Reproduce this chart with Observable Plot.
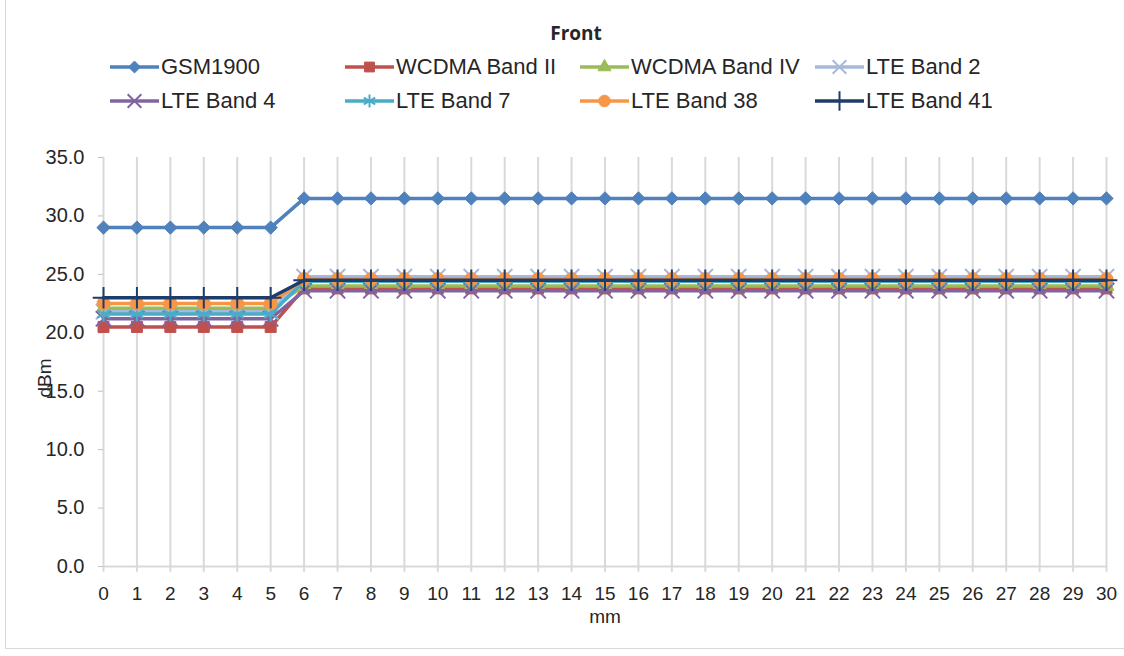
<!DOCTYPE html>
<html><head><meta charset="utf-8">
<script src="https://cdn.jsdelivr.net/npm/d3@7"></script>
<script src="https://cdn.jsdelivr.net/npm/@observablehq/plot@0.6"></script>
<style>
body{margin:0;background:#fff;font-family:"Liberation Sans",Arial,sans-serif;color:#262626}
#wrap{position:relative;width:1124px;height:656px;overflow:hidden;background:#fff}
#frame{position:absolute;left:5px;top:-3px;width:1140px;height:652px;border:1.5px solid #d9d9d9;box-sizing:border-box}
#title{position:absolute;top:20px;left:0;width:1152px;text-align:center;font-weight:bold;font-size:19px;color:#262626;font-family:"Open Sans","Liberation Sans",sans-serif}
.leg{position:absolute;display:flex;align-items:center;font-size:22px;white-space:nowrap;color:#262626}
.leg svg{margin-right:2px}
#chart{position:absolute;left:0;top:140px}
#ylab{position:absolute;left:45px;top:378px;transform:translate(-50%,-50%) rotate(-90deg);font-size:19px;color:#262626}
#xlab{position:absolute;left:505px;width:200px;text-align:center;top:606px;font-size:19px;color:#262626}
</style></head>
<body><div id="wrap"><div id="frame"></div><div id="title">Front</div><div id="legend"></div><div id="chart"></div><div id="ylab">dBm</div><div id="xlab">mm</div></div>
<script>
const mm = [0,1,2,3,4,5,6,7,8,9,10,11,12,13,14,15,16,17,18,19,20,21,22,23,24,25,26,27,28,29,30];
const seriesNames = ["GSM1900","WCDMA Band II","WCDMA Band IV","LTE Band 2","LTE Band 4","LTE Band 7","LTE Band 38","LTE Band 41"];
const gsm1900 = [29.0,29.0,29.0,29.0,29.0,29.0,31.5,31.5,31.5,31.5,31.5,31.5,31.5,31.5,31.5,31.5,31.5,31.5,31.5,31.5,31.5,31.5,31.5,31.5,31.5,31.5,31.5,31.5,31.5,31.5,31.5];
const wcdmaII = [20.5,20.5,20.5,20.5,20.5,20.5,23.8,23.8,23.8,23.8,23.8,23.8,23.8,23.8,23.8,23.8,23.8,23.8,23.8,23.8,23.8,23.8,23.8,23.8,23.8,23.8,23.8,23.8,23.8,23.8,23.8];
const wcdmaIV = [22.1,22.1,22.1,22.1,22.1,22.1,24.0,24.0,24.0,24.0,24.0,24.0,24.0,24.0,24.0,24.0,24.0,24.0,24.0,24.0,24.0,24.0,24.0,24.0,24.0,24.0,24.0,24.0,24.0,24.0,24.0];
const lte2 = [21.8,21.8,21.8,21.8,21.8,21.8,24.8,24.8,24.8,24.8,24.8,24.8,24.8,24.8,24.8,24.8,24.8,24.8,24.8,24.8,24.8,24.8,24.8,24.8,24.8,24.8,24.8,24.8,24.8,24.8,24.8];
const lte4 = [21.2,21.2,21.2,21.2,21.2,21.2,23.6,23.6,23.6,23.6,23.6,23.6,23.6,23.6,23.6,23.6,23.6,23.6,23.6,23.6,23.6,23.6,23.6,23.6,23.6,23.6,23.6,23.6,23.6,23.6,23.6];
const lte7 = [21.6,21.6,21.6,21.6,21.6,21.6,24.4,24.4,24.4,24.4,24.4,24.4,24.4,24.4,24.4,24.4,24.4,24.4,24.4,24.4,24.4,24.4,24.4,24.4,24.4,24.4,24.4,24.4,24.4,24.4,24.4];
const lte38 = [22.5,22.5,22.5,22.5,22.5,22.5,24.6,24.6,24.6,24.6,24.6,24.6,24.6,24.6,24.6,24.6,24.6,24.6,24.6,24.6,24.6,24.6,24.6,24.6,24.6,24.6,24.6,24.6,24.6,24.6,24.6];
const lte41 = [23.0,23.0,23.0,23.0,23.0,23.0,24.5,24.5,24.5,24.5,24.5,24.5,24.5,24.5,24.5,24.5,24.5,24.5,24.5,24.5,24.5,24.5,24.5,24.5,24.5,24.5,24.5,24.5,24.5,24.5,24.5];
const yTicks = [0,5,10,15,20,25,30,35];

const values = [gsm1900,wcdmaII,wcdmaIV,lte2,lte4,lte7,lte38,lte41];
const colors = ["#4F81BD","#C0504D","#9BBB59","#A7B9DB","#8064A2","#4BACC6","#F79646","#1F3D6B"];
const symbols = ["diamond2","square2","triangle2","times","times","asterisk","circle","plus"];
const filled = [true,true,true,false,false,false,true,false];
const radii = [6,7,7,7,7,7,6.5,7];

const data = seriesNames.flatMap((s,i)=>mm.map((x,j)=>({series:s, idx:i, mm:x, dbm:values[i][j]})));

const marks = [
  Plot.ruleX(mm,{x:d=>d, y1:-0.5, y2:35, stroke:"#d9d9d9", strokeWidth:2, strokeOpacity:1}),
  Plot.ruleY([0],{stroke:"#d9d9d9", strokeWidth:2}),
  Plot.axisY({ticks:yTicks, tickFormat:d=>d.toFixed(1), tickSize:5, tickPadding:14, fontSize:20, stroke:"#bfbfbf", fill:"#262626", label:null}),
  Plot.axisX({ticks:mm, tickFormat:d=>String(d), tickSize:0, tickPadding:20, fontSize:19, fill:"#262626", label:null}),
];
seriesNames.forEach((s,i)=>{
  const d = data.filter(e=>e.idx===i);
  marks.push(Plot.line(d,{x:"mm",y:"dbm",stroke:colors[i],strokeWidth:3.5}));
  marks.push(Plot.dot(d,{x:"mm",y:"dbm",symbol:()=>symbols[i],r:radii[i],
    fill:filled[i]?colors[i]:"none", stroke:colors[i], strokeWidth:filled[i]?1:2}));
});

const chart = Plot.plot({
  width:1124, height:516,
  marginTop:17, marginBottom:90, marginLeft:103, marginRight:18,
  x:{type:"linear", domain:[0,30]},
  y:{domain:[0,35]},
  symbol:{type:"identity"},
  style:{fontFamily:"Liberation Sans, Arial, sans-serif", background:"transparent", overflow:"visible"},
  marks
});
document.getElementById("chart").appendChild(chart);

// legend
const symMap = {diamond2:d3.symbolDiamond2,square2:d3.symbolSquare2,triangle2:d3.symbolTriangle2,times:d3.symbolTimes,asterisk:d3.symbolAsterisk,circle:d3.symbolCircle,plus:d3.symbolPlus};
const legend = document.getElementById("legend");
const colX = [110,345,580,815], rowY = [67,101];
seriesNames.forEach((s,i)=>{
  const div = document.createElement("div");
  div.className="leg";
  div.style.left = colX[i%4]+"px";
  div.style.top = (rowY[Math.floor(i/4)]-13)+"px";
  const svg = d3.create("svg").attr("width",49).attr("height",26);
  svg.append("line").attr("x1",0).attr("x2",49).attr("y1",13).attr("y2",13).attr("stroke",colors[i]).attr("stroke-width",3.5);
  svg.append("path").attr("transform","translate(24.5,13)")
    .attr("d",d3.symbol(symMap[symbols[i]], Math.PI*radii[i]*radii[i]*0.8)())
    .attr("fill",filled[i]?colors[i]:"none").attr("stroke",colors[i]).attr("stroke-width",filled[i]?1:2);
  div.appendChild(svg.node());
  const t = document.createElement("span"); t.textContent = s; div.appendChild(t);
  legend.appendChild(div);
});
</script></body></html>
